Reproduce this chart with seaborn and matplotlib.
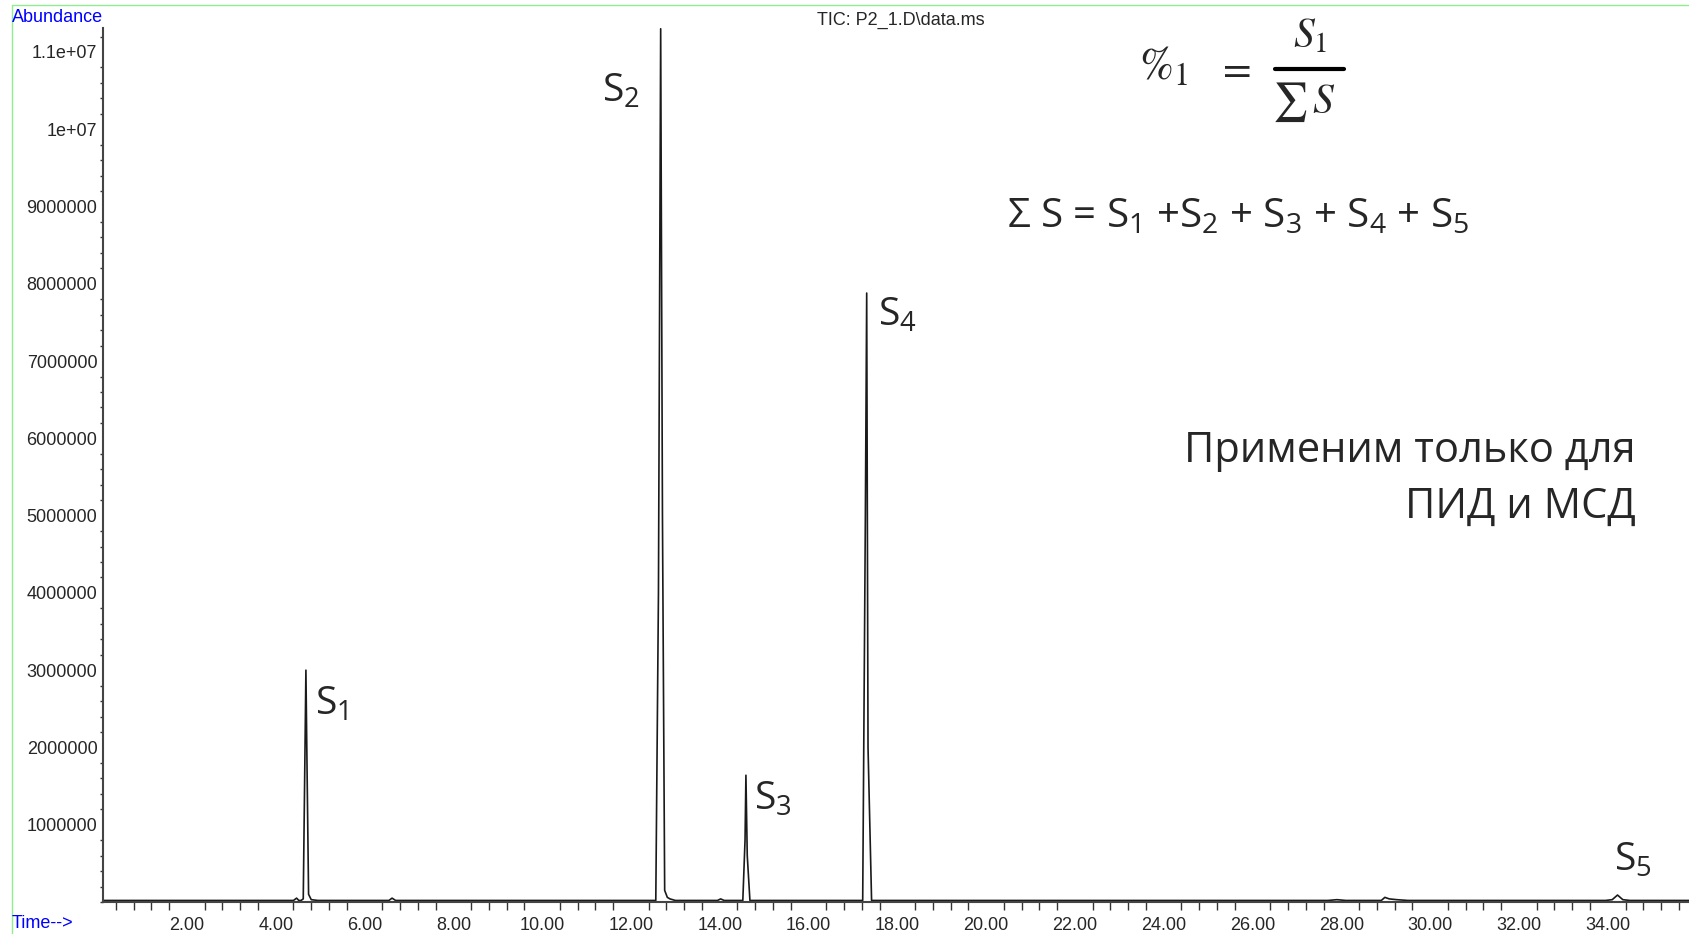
import matplotlib
matplotlib.use("Agg")
import matplotlib.pyplot as plt
import seaborn as sns
from matplotlib.ticker import FixedLocator, MultipleLocator, FixedFormatter
from matplotlib.lines import Line2D

# Cromatograma TIC (tiempo en min, abundancia)
tiempo = [0.11, 4.40, 4.47, 4.52, 4.57, 4.62, 4.66, 4.68, 4.70, 4.74, 4.80, 4.95,
          6.55, 6.62, 6.70, 12.56, 12.62, 12.67, 12.71, 12.76, 12.82, 12.88, 13.00,
          13.95, 14.02, 14.10, 14.52, 14.57, 14.59, 14.62, 14.68,
          17.22, 17.28, 17.31, 17.34, 17.42, 27.70, 27.90, 28.10,
          28.90, 28.98, 29.08, 29.25, 29.50, 33.95, 34.10, 34.22, 34.34, 34.50, 35.83]
abundancia = [2e4, 2e4, 5e4, 2e4, 2e4, 4e4, 2.0e6, 3.0e6, 2.0e6, 1e5, 3e4, 2e4,
              2e4, 5e4, 2e4, 2e4, 4e6, 11.3e6, 5e6, 1.5e5, 6e4, 4e4, 2e4,
              2e4, 4e4, 2e4, 2e4, 8e5, 1.64e6, 6e5, 2e4,
              2e4, 5e6, 7.88e6, 2e6, 2e4, 2e4, 3e4, 2e4,
              2e4, 6e4, 4e4, 3e4, 2e4, 2e4, 3e4, 9e4, 3e4, 2e4, 2e4]

# Etiquetas de picos
picos = ["S$_1$", "S$_2$", "S$_3$", "S$_4$", "S$_5$"]
picos_t = [4.88, 11.35, 14.77, 17.56, 34.15]
picos_y = [2.42e6, 10.35e6, 1.19e6, 7.46e6, 0.41e6]

# Ejes
y_ticks = [1e6, 2e6, 3e6, 4e6, 5e6, 6e6, 7e6, 8e6, 9e6, 1e7, 1.1e7]
y_labels = ["1000000", "2000000", "3000000", "4000000", "5000000", "6000000",
            "7000000", "8000000", "9000000", "1e+07", "1.1e+07"]
x_ticks = [2, 4, 6, 8, 10, 12, 14, 16, 18, 20, 22, 24, 26, 28, 30, 32, 34]
x_labels = [f"{t:.2f}" for t in x_ticks]

sns.set_style("white")
plt.rcParams["font.family"] = ["Liberation Sans", "DejaVu Sans"]
plt.rcParams["mathtext.fontset"] = "custom"
plt.rcParams["mathtext.rm"] = "Open Sans"
plt.rcParams["mathtext.it"] = "Open Sans:italic"
plt.rcParams["mathtext.bf"] = "Open Sans:bold"

W, H = 1689, 934
fig = plt.figure(figsize=(W / 100, H / 100), dpi=100)
ax = fig.add_axes([103 / W, 1 - 902 / H, (W - 103) / W, (902 - 28) / H])

sns.lineplot(x=tiempo, y=abundancia, ax=ax, color="#1a1a1a", lw=1.2)

ax.set_xlim(0.11, 35.83)
ax.set_ylim(0, 11.31e6)

ax.yaxis.set_major_locator(FixedLocator(y_ticks))
ax.yaxis.set_major_formatter(FixedFormatter(y_labels))
ax.yaxis.set_minor_locator(MultipleLocator(2e5))
ax.xaxis.set_major_locator(FixedLocator(x_ticks))
ax.xaxis.set_major_formatter(FixedFormatter(x_labels))
ax.xaxis.set_minor_locator(MultipleLocator(0.4))

ax.tick_params(axis="y", which="major", length=3, width=1, pad=1, labelsize=13, color="#333")
ax.tick_params(axis="y", which="minor", length=2, width=1, color="#333", left=True)
ax.tick_params(axis="x", which="major", length=9, width=1, pad=2, labelsize=13, color="#333")
ax.tick_params(axis="x", which="minor", length=6, width=1, color="#333", bottom=True)

for lado in ["top", "right"]:
    ax.spines[lado].set_visible(False)
for lado in ["left", "bottom"]:
    ax.spines[lado].set_color("#444")
    ax.spines[lado].set_linewidth(1.5)
ax.set_xlabel("")
ax.set_ylabel("")

# Etiquetas S1..S5
for nombre, t, y in zip(picos, picos_t, picos_y):
    ax.text(t, y, nombre, fontsize=28, family="Open Sans", ha="left", va="baseline")

# Textos de la figura (posiciones en pixeles)
def fx(px):
    return px / W

def fy(py):
    return 1 - py / H

fig.text(fx(12), fy(22), "Abundance", color="#0000ff", fontsize=13, va="baseline")
fig.text(fx(12), fy(928), "Time-->", color="#0000ff", fontsize=13, va="baseline")
fig.text(fx(901), fy(25), "TIC: P2_1.D\\data.ms", fontsize=13, ha="center", va="baseline")

# Formula %1 = S1 / sum S
fig.text(fx(1139), fy(79), r"$\%_1$", fontsize=33, math_fontfamily="stix",
         ha="left", va="baseline")
fig.text(fx(1216), fy(80), r"$=$", fontsize=30, math_fontfamily="stix",
         ha="left", va="baseline")
fig.add_artist(Line2D([fx(1275), fx(1344)], [fy(69), fy(69)], color="black", lw=3))
fig.text(fx(1310), fy(47), r"$S_1$", fontsize=30, math_fontfamily="stix",
         ha="center", va="baseline")
fig.text(fx(1290), fy(102), r"$\sum$", fontsize=28, math_fontfamily="stix",
         ha="center", va="center")
fig.text(fx(1312), fy(113), r"$S$", fontsize=30, math_fontfamily="stix",
         ha="left", va="baseline")

fig.text(fx(1007), fy(227), "Σ S = S$_1$ +S$_2$ + S$_3$ + S$_4$ + S$_5$",
         fontsize=29, family="Open Sans", ha="left", va="baseline")
fig.text(fx(1636), fy(462), "Применим только для", fontsize=30,
         family="Open Sans", ha="right", va="baseline")
fig.text(fx(1636), fy(518), "ПИД и МСД", fontsize=30,
         family="Open Sans", ha="right", va="baseline")

# Marco verde
fig.add_artist(Line2D([fx(12), fx(12)], [0, fy(5)], color="#90ee90", lw=1))
fig.add_artist(Line2D([fx(12), 1], [fy(5), fy(5)], color="#90ee90", lw=1))

fig.savefig("out.png", dpi=100)
